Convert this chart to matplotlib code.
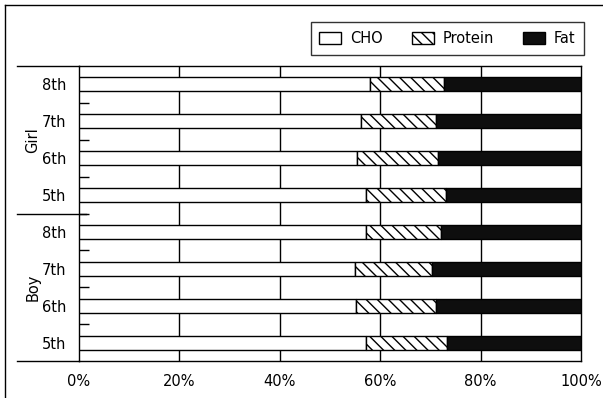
import matplotlib
matplotlib.use("Agg")
import matplotlib.pyplot as plt
from matplotlib.patches import Patch
from matplotlib.lines import Line2D
import numpy as np

groups = ["Girl", "Boy"]
grades = ["8th", "7th", "6th", "5th"]
row_labels = ["8th", "7th", "6th", "5th", "8th", "7th", "6th", "5th"]
cho = [58.1, 56.3, 55.4, 57.3, 57.2, 55.0, 55.2, 57.2]
protein_end = [72.7, 71.2, 71.5, 73.2, 72.2, 70.4, 71.2, 73.3]
protein = [p - c for p, c in zip(protein_end, cho)]
fat = [100 - p for p in protein_end]
xticks = [0, 20, 40, 60, 80, 100]
xtick_labels = ["0%", "20%", "40%", "60%", "80%", "100%"]

plt.rcParams['font.family'] = ['DejaVu Sans']
plt.rcParams['hatch.linewidth'] = 1.0

W, H = 603, 398
fig = plt.figure(figsize=(W / 100, H / 100), dpi=100)
ax = fig.add_axes([78.5 / W, 1 - 361 / H, (581 - 78.5) / W, (361 - 66) / H])

n = len(cho)
y = np.arange(n)
bh = 0.38
for gx in xticks[1:-1]:
    ax.axvline(gx, color='black', lw=1.0, zorder=1)

ax.barh(y, cho, height=bh, color='white', edgecolor='black', lw=1.0, zorder=3, label="CHO")
ax.barh(y, protein, left=cho, height=bh, color='white', edgecolor='black', lw=1.0,
        hatch='\\\\\\', zorder=3, label="Protein")
ax.barh(y, fat, left=protein_end, height=bh, color='#0e0e0e', edgecolor='black', lw=1.0,
        zorder=3, label="Fat")

ax.set_xlim(0, 100)
ax.set_ylim(n - 0.5, -0.5)
ax.set_xticks(xticks)
ax.set_xticklabels(xtick_labels, fontsize=10.5)
ax.tick_params(axis='x', length=0, pad=9)

bounds = [i + 0.5 for i in range(n - 1)]
ax.set_yticks(bounds)
ax.set_yticklabels([])
ax.tick_params(axis='y', direction='in', length=7, width=1.0)
ax.set_yticks(y, minor=True)
ax.set_yticklabels(row_labels, minor=True, fontsize=10.5)
ax.tick_params(axis='y', which='minor', length=0, pad=9)

for s in ax.spines.values():
    s.set_linewidth(1.0)
    s.set_color('black')

# extended top/bottom lines and group divider
trans = ax.get_yaxis_transform()
x_left = (17 - 78.5) / (581 - 78.5)
for yy, x1 in [(-0.5, 0), (n - 0.5, 0), (3.5, 7 / (581 - 78.5))]:
    ax.add_line(Line2D([x_left, x1], [yy, yy], transform=trans, color='black',
                       lw=1.0, clip_on=False))

for gi, g in enumerate(groups):
    yc = gi * 4 + 1.5
    ax.text((33 - 78.5) / (581 - 78.5), yc, g, transform=trans, rotation=90,
            ha='center', va='center', fontsize=10.5)

# outer frame (left and top)
fig.add_artist(Line2D([5 / W, 5 / W], [0, 1 - 5 / H], transform=fig.transFigure,
                      color='black', lw=1.0))
fig.add_artist(Line2D([5 / W, 1], [1 - 5 / H, 1 - 5 / H], transform=fig.transFigure,
                      color='black', lw=1.0))

handles = [Patch(facecolor='white', edgecolor='black', label='CHO'),
           Patch(facecolor='white', edgecolor='black', hatch='\\\\\\', label='Protein'),
           Patch(facecolor='#0e0e0e', edgecolor='black', label='Fat')]
leg = fig.legend(handles=handles, loc='upper right', ncol=3,
                 bbox_to_anchor=(584 / W, 1 - 22 / H), fontsize=10.5,
                 frameon=True, fancybox=False, edgecolor='black',
                 handlelength=1.5, handleheight=0.9, columnspacing=2.0,
                 handletextpad=0.6, borderpad=0.6, borderaxespad=0)
leg.get_frame().set_linewidth(1.0)

fig.savefig("out.png", dpi=100)
